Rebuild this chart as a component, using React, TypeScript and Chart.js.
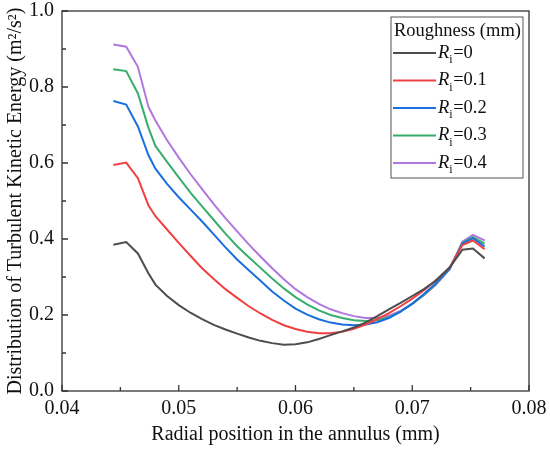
import { useEffect, useRef } from 'react';
import Chart from 'chart.js/auto';

const radialPos = [0.0444, 0.0455, 0.0465, 0.0474, 0.048, 0.049, 0.05, 0.051, 0.052, 0.053, 0.054, 0.055, 0.056, 0.057, 0.058, 0.059, 0.06, 0.061, 0.062, 0.063, 0.064, 0.065, 0.066, 0.067, 0.068, 0.069, 0.07, 0.071, 0.072, 0.0732, 0.0743, 0.0752, 0.0762];

const tkeR0 = [0.385, 0.392, 0.362, 0.31, 0.28, 0.25, 0.226, 0.206, 0.189, 0.174, 0.162, 0.151, 0.141, 0.132, 0.126, 0.122, 0.123, 0.128, 0.137, 0.147, 0.157, 0.167, 0.18, 0.197, 0.215, 0.232, 0.25, 0.268, 0.29, 0.325, 0.372, 0.375, 0.349];
const tkeR01 = [0.595, 0.601, 0.56, 0.489, 0.46, 0.425, 0.39, 0.356, 0.323, 0.295, 0.268, 0.245, 0.223, 0.204, 0.187, 0.173, 0.163, 0.156, 0.152, 0.152, 0.156, 0.164, 0.175, 0.189, 0.205, 0.223, 0.243, 0.265, 0.29, 0.325, 0.384, 0.396, 0.373];
const tkeR02 = [0.763, 0.754, 0.696, 0.621, 0.585, 0.545, 0.51, 0.478, 0.446, 0.412, 0.378, 0.346, 0.318, 0.29, 0.262, 0.238, 0.217, 0.201, 0.189, 0.18, 0.175, 0.173, 0.175, 0.181, 0.192, 0.209, 0.23, 0.255, 0.283, 0.322, 0.388, 0.402, 0.38];
const tkeR03 = [0.847, 0.842, 0.783, 0.693, 0.645, 0.603, 0.562, 0.522, 0.486, 0.45, 0.414, 0.381, 0.352, 0.324, 0.296, 0.27, 0.247, 0.228, 0.212, 0.2, 0.192, 0.186, 0.184, 0.186, 0.194, 0.209, 0.229, 0.253, 0.281, 0.322, 0.39, 0.405, 0.388];
const tkeR04 = [0.912, 0.906, 0.853, 0.748, 0.712, 0.66, 0.614, 0.571, 0.531, 0.492, 0.455, 0.42, 0.386, 0.354, 0.323, 0.294, 0.268, 0.247, 0.229, 0.215, 0.205, 0.197, 0.192, 0.192, 0.198, 0.211, 0.229, 0.252, 0.279, 0.32, 0.393, 0.411, 0.396];

const roughness = ['0', '0.1', '0.2', '0.3', '0.4'];
const seriesValues = [tkeR0, tkeR01, tkeR02, tkeR03, tkeR04];
const seriesColors = ['#4d4d4d', '#f14040', '#1a6fdf', '#37ad6b', '#b177de'];

const SERIF = '"Liberation Serif", "Times New Roman", serif';

// box, inward ticks and the legend with R_i labels
const framePlugin = {
  id: 'frame',
  afterDraw(chart: any) {
    const { ctx, chartArea: a, scales } = chart;
    ctx.save();
    ctx.strokeStyle = '#333';
    ctx.lineWidth = 1.3;
    ctx.strokeRect(a.left, a.top, a.right - a.left, a.bottom - a.top);

    ctx.beginPath();
    for (let v = 0.04; v <= 0.0801; v += 0.005) {
      const px = scales.x.getPixelForValue(v);
      const major = Math.abs(Math.round(v * 100) - v * 100) < 1e-6;
      ctx.moveTo(px, a.bottom);
      ctx.lineTo(px, a.bottom - (major ? 6 : 4));
    }
    for (let v = 0; v <= 1.0001; v += 0.1) {
      const py = scales.y.getPixelForValue(v);
      const major = Math.round(v * 10) % 2 === 0;
      ctx.moveTo(a.left, py);
      ctx.lineTo(a.left + (major ? 6 : 4), py);
    }
    ctx.stroke();

    // legend
    const lx = a.right - 138;
    const ly = a.top + 6;
    ctx.strokeStyle = '#555';
    ctx.lineWidth = 1;
    ctx.strokeRect(lx, ly, 132, 161);
    ctx.fillStyle = '#111';
    ctx.textBaseline = 'middle';
    ctx.font = `18.5px ${SERIF}`;
    ctx.fillText('Roughness (mm)', lx + 3, ly + 14);
    roughness.forEach((r, i) => {
      const y = ly + 36 + i * 27.5;
      ctx.strokeStyle = seriesColors[i];
      ctx.lineWidth = 2;
      ctx.beginPath();
      ctx.moveTo(lx + 2, y);
      ctx.lineTo(lx + 45, y);
      ctx.stroke();
      let x = lx + 47;
      ctx.fillStyle = '#111';
      ctx.font = `italic 18.5px ${SERIF}`;
      ctx.fillText('R', x, y);
      x += ctx.measureText('R').width;
      ctx.font = `12px ${SERIF}`;
      ctx.fillText('i', x, y + 7);
      x += ctx.measureText('i').width + 0.5;
      ctx.font = `18.5px ${SERIF}`;
      ctx.fillText('=' + r, x, y);
    });
    ctx.restore();
  },
};

export default function App() {
  const canvasRef = useRef<HTMLCanvasElement>(null);

  useEffect(() => {
    document.body.style.margin = '0';
    if (!canvasRef.current) return;
    const chart = new Chart(canvasRef.current, {
      type: 'line',
      data: {
        datasets: seriesValues.map((vals, i) => ({
          label: 'Ri=' + roughness[i],
          data: vals.map((v, j) => ({ x: radialPos[j], y: v })),
          borderColor: seriesColors[i],
          backgroundColor: seriesColors[i],
          borderWidth: 2,
          pointRadius: 0,
          tension: 0,
          fill: false,
        })),
      },
      options: {
        animation: false,
        responsive: true,
        maintainAspectRatio: false,
        layout: { padding: { top: 11, right: 21, left: 0, bottom: 0 } },
        plugins: { legend: { display: false }, tooltip: { enabled: false } },
        scales: {
          x: {
            type: 'linear',
            min: 0.04,
            max: 0.08,
            grid: { display: false, drawTicks: false, tickLength: 0 },
            border: { display: false },
            afterFit: (s: any) => {
              s.height = 58;
              s.paddingLeft = 0;
              s.paddingRight = 0;
            },
            ticks: {
              stepSize: 0.01,
              padding: 6,
              color: '#111',
              font: { family: SERIF, size: 20 },
              callback: (v: any) => Number(v).toFixed(2),
            },
            title: {
              display: true,
              text: 'Radial position in the annulus (mm)',
              color: '#111',
              font: { family: SERIF, size: 20 },
              padding: { top: 2, bottom: 2 },
            },
          },
          y: {
            min: 0,
            max: 1,
            grid: { display: false, drawTicks: false, tickLength: 0 },
            border: { display: false },
            afterFit: (s: any) => {
              s.width = 62;
              s.paddingTop = 0;
              s.paddingBottom = 0;
            },
            ticks: {
              stepSize: 0.2,
              padding: 8,
              color: '#111',
              font: { family: SERIF, size: 20 },
              callback: (v: any) => Number(v).toFixed(1),
            },
            title: {
              display: true,
              text: 'Distribution of Turbulent Kinetic Energy (m²/s²)',
              color: '#111',
              font: { family: SERIF, size: 20 },
              padding: { top: 4, bottom: 0 },
            },
          },
        },
      },
      plugins: [framePlugin],
    });
    return () => chart.destroy();
  }, []);

  return (
    <div style={{ width: 550, height: 449, position: 'relative', background: '#fff' }}>
      <canvas ref={canvasRef}></canvas>
    </div>
  );
}
